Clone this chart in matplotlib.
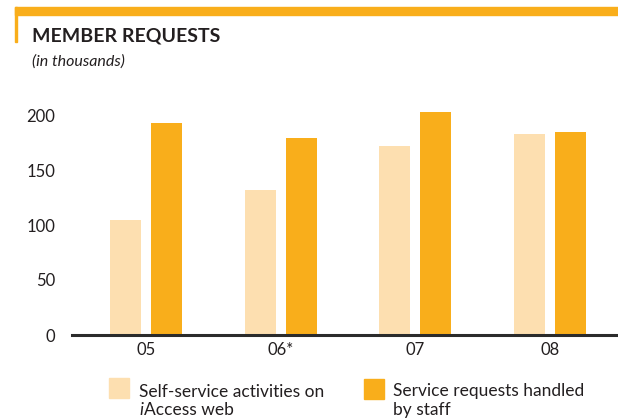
import numpy as np
import matplotlib
matplotlib.use("Agg")
import matplotlib.pyplot as plt
from matplotlib.patches import Rectangle

plt.rcParams['font.family'] = ['Lato', 'DejaVu Sans']

years = ["05", "06*", "07", "08"]
self_service = [105, 132, 172, 183]
staff = [193, 179, 203, 185]

LIGHT = "#FDDFB0"
DARK = "#F9AE1B"
TEXT = "#231F20"

W, H = 618, 420
fig = plt.figure(figsize=(W / 100, H / 100), dpi=100)

# axes area in pixels; baseline at y=335, value 200 at y=115
ax_left, ax_right = 72, 618
y0_px, y200_px = 335, 115
ax_top_px = 95
ymax = 200 * (y0_px - ax_top_px) / (y0_px - y200_px)
ax = fig.add_axes([ax_left / W, (H - y0_px) / H,
                   (ax_right - ax_left) / W, (y0_px - ax_top_px) / H])

x = np.arange(len(years))
bw = 0.23
off = 0.152
ax.bar(x - off, self_service, width=bw, color=LIGHT)
ax.bar(x + off, staff, width=bw, color=DARK)

ax.set_xlim(-0.549, 3.504)
ax.set_ylim(0, ymax)
ax.set_yticks([0, 50, 100, 150, 200])
ax.set_xticks(x)
ax.set_xticklabels(years)
for s in ["top", "right", "left"]:
    ax.spines[s].set_visible(False)
ax.spines["bottom"].set_linewidth(2.2)
ax.spines["bottom"].set_color("#2b2b2b")
ax.tick_params(axis="both", length=0, labelsize=12, colors=TEXT)
ax.tick_params(axis="y", pad=12)
ax.tick_params(axis="x", pad=5)

# header decoration
fig.patches.append(Rectangle((15 / W, 1 - 15 / H), 1 - 15 / W, 8 / H,
                             transform=fig.transFigure, color=DARK, zorder=0))
fig.patches.append(Rectangle((15 / W, 1 - 42 / H), 2 / W, 35 / H,
                             transform=fig.transFigure, color=DARK, zorder=0))

fig.text(32 / W, 1 - 42 / H, "MEMBER REQUESTS", fontsize=14, fontweight="bold",
         color=TEXT, va="baseline", ha="left")
fig.text(32 / W, 1 - 62 / H, "(in thousands)", fontsize=11.5, style="italic",
         color=TEXT, va="center", ha="left")

# legend
fig.patches.append(Rectangle((109 / W, 1 - 398 / H), 20 / W, 20 / H,
                             transform=fig.transFigure, color=LIGHT))
fig.patches.append(Rectangle((364 / W, 1 - 399 / H), 20 / W, 20 / H,
                             transform=fig.transFigure, color=DARK))
fig.text(139 / W, 1 - 397 / H, "Self-service activities on", fontsize=12.5,
         color=TEXT, va="baseline", ha="left")
fig.text(139 / W, 1 - 415 / H, "i", fontsize=12.5, style="italic",
         color=TEXT, va="baseline", ha="left")
fig.text(144 / W, 1 - 415 / H, "Access web", fontsize=12.5,
         color=TEXT, va="baseline", ha="left")
fig.text(393 / W, 1 - 396 / H, "Service requests handled", fontsize=12.5,
         color=TEXT, va="baseline", ha="left")
fig.text(393 / W, 1 - 415 / H, "by staff", fontsize=12.5,
         color=TEXT, va="baseline", ha="left")

fig.savefig("out.png", dpi=100)
